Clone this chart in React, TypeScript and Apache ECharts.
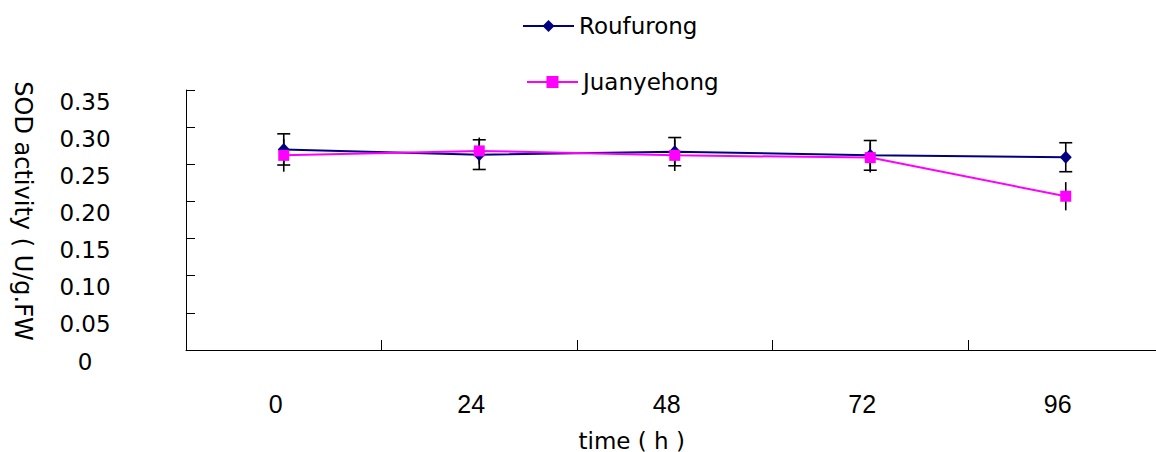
import React, { useEffect, useRef } from "react";
import * as echarts from "echarts";

const categories = ["0", "24", "48", "72", "96"];
const seriesNames = ["Roufurong", "Juanyehong"];
const roufurong = [0.27, 0.263, 0.267, 0.262, 0.2595];
const roufurongErr = [0.021, 0.02, 0.019, 0.02, 0.0195];
const juanyehong = [0.262, 0.268, 0.262, 0.259, 0.207];
const juanyehongErr = [0.022, 0.018, 0.021, 0.02, 0.019];
const yTicks = { min: 0, max: 0.35, interval: 0.05 };
const xName = "time ( h )";
const yName = "SOD activity ( U/g.FW";

const NAVY = "#000080";
const MAGENTA = "#FF00FF";

function errData(vals: number[], errs: number[]) {
  return vals.map((v, i) => [i, v - errs[i], v + errs[i]]);
}

function errSeries(vals: number[], errs: number[], capHalf: number) {
  return {
    type: "custom",
    z: 1,
    silent: true,
    encode: { x: 0, y: [1, 2] },
    data: errData(vals, errs),
    renderItem: (params: any, api: any) => {
      const idx = api.value(0);
      const lo = api.coord([idx, api.value(1)]);
      const hi = api.coord([idx, api.value(2)]);
      const style = { stroke: "#000", lineWidth: 1.6 };
      const children: any[] = [
        { type: "line", shape: { x1: lo[0], y1: lo[1], x2: hi[0], y2: hi[1] }, style },
      ];
      if (capHalf > 0) {
        children.push(
          { type: "line", shape: { x1: lo[0] - capHalf, y1: lo[1], x2: lo[0] + capHalf, y2: lo[1] }, style },
          { type: "line", shape: { x1: hi[0] - capHalf, y1: hi[1], x2: hi[0] + capHalf, y2: hi[1] }, style }
        );
      }
      return { type: "group", children };
    },
  };
}

export default function App() {
  const ref = useRef<HTMLDivElement>(null);
  useEffect(() => {
    if (!ref.current) return;
    const chart = echarts.init(ref.current, null, { renderer: "svg" });
    const legendText = { fontFamily: "DejaVu Sans", fontSize: 23, color: "#000", lineHeight: 24 };
    chart.setOption({
      animation: false,
      backgroundColor: "#fff",
      legend: [
        {
          data: [seriesNames[0]],
          left: 522,
          top: 14,
          padding: 0,
          orient: "vertical",
          itemWidth: 51,
          itemHeight: 15,
          textStyle: legendText,
        },
        {
          data: [seriesNames[1]],
          left: 526,
          top: 70,
          padding: 0,
          orient: "vertical",
          itemWidth: 51,
          itemHeight: 15,
          textStyle: legendText,
        },
      ],
      grid: {
        left: 186,
        top: 90,
        width: 977.5,
        height: 260,
        containLabel: false,
        outerBoundsMode: "none",
      },
      xAxis: {
        type: "category",
        data: categories,
        boundaryGap: true,
        name: xName,
        nameLocation: "middle",
        nameGap: 79,
        nameTextStyle: {
          fontFamily: "DejaVu Sans",
          fontSize: 23,
          color: "#000",
          padding: [0, 86, 0, 0],
        },
        axisLine: { show: true, lineStyle: { color: "#000", width: 1 } },
        axisTick: { show: true, inside: true, length: 10, lineStyle: { color: "#000" } },
        axisLabel: {
          fontFamily: "Liberation Sans, Arial",
          fontSize: 25,
          color: "#000",
          margin: 41,
          padding: [0, 16, 0, 0],
        },
        splitLine: { show: false },
      },
      yAxis: {
        type: "value",
        min: yTicks.min,
        max: yTicks.max,
        interval: yTicks.interval,
        axisLine: { show: true, lineStyle: { color: "#000", width: 1 } },
        axisTick: { show: true, inside: true, length: 9, lineStyle: { color: "#000" } },
        axisLabel: {
          fontFamily: "DejaVu Sans",
          fontSize: 23,
          color: "#000",
          align: "center",
          verticalAlign: "top",
          margin: 101,
          formatter: (v: number) => (v === 0 ? "0" : v.toFixed(2)),
        },
        splitLine: { show: false },
      },
      graphic: [
        {
          type: "text",
          x: 23,
          y: 211,
          rotation: -Math.PI / 2,
          style: {
            text: yName,
            fontFamily: "DejaVu Sans",
            fontSize: 24,
            fill: "#000",
            align: "center",
            verticalAlign: "middle",
          },
        },
      ],
      series: [
        errSeries(roufurong, roufurongErr, 6.5),
        errSeries(juanyehong, juanyehongErr, 0),
        {
          name: seriesNames[0],
          type: "line",
          data: roufurong,
          z: 3,
          symbol: "diamond",
          symbolSize: [12, 13],
          itemStyle: { color: NAVY },
          lineStyle: { color: NAVY, width: 2 },
        },
        {
          name: seriesNames[1],
          type: "line",
          data: juanyehong,
          z: 4,
          symbol: "rect",
          symbolSize: 11,
          itemStyle: { color: MAGENTA },
          lineStyle: { color: MAGENTA, width: 2 },
        },
      ],
    });
    return () => chart.dispose();
  }, []);
  return (
    <div
      ref={ref}
      style={{ position: "fixed", left: 0, top: 0, width: 1156, height: 452 }}
    />
  );
}
